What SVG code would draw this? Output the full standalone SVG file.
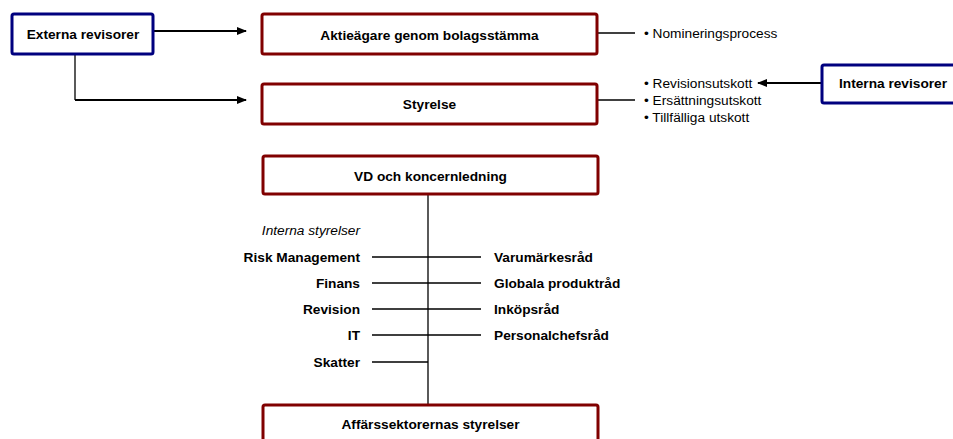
<svg xmlns="http://www.w3.org/2000/svg" width="953" height="439" viewBox="0 0 953 439">
<style>
.red{fill:#fff;stroke:#800000;stroke-width:3}
.blue{fill:#fff;stroke:#00007f;stroke-width:3}
.b{font-family:"Liberation Sans",Arial,sans-serif;font-weight:bold;font-size:13.7px;fill:#000}
.n{font-family:"Liberation Sans",Arial,sans-serif;font-size:13.7px;fill:#000}
.ln{stroke:#000;stroke-width:1.3;fill:none}
.arr{stroke:#000;stroke-width:2.2;fill:none}
</style>
<defs>
<marker id="ah" markerWidth="10" markerHeight="8" refX="9" refY="4" orient="auto" markerUnits="userSpaceOnUse">
<path d="M0,0 L10,4 L0,8 Z" fill="#000"/>
</marker>
</defs>
<g id="connectors">
<path class="arr" d="M153,31 H246" marker-end="url(#ah)"/>
<path class="ln" d="M75,54 V100"/>
<path class="arr" d="M75,100 H246" marker-end="url(#ah)"/>
<path class="ln" d="M597,33 H635"/>
<path class="ln" d="M597,100 H635"/>
<path class="arr" d="M822,83 H758" marker-end="url(#ah)"/>
<path class="ln" d="M428,194 V405"/>
<path class="ln" d="M372,257 H428 M372,283 H428 M372,309 H428 M372,335 H428 M372,362 H428"/>
<path class="ln" d="M428,257 H481 M428,283 H481 M428,309 H481 M428,335 H481"/>
</g>
<g id="externa">
<rect class="blue" x="12" y="14" width="141" height="40" rx="2"/>
<text class="b" x="83" y="39" text-anchor="middle">Externa revisorer</text>
</g>
<g id="aktieagare">
<rect class="red" x="262" y="14" width="335" height="40" rx="2"/>
<text class="b" x="429.5" y="40" text-anchor="middle">Aktieägare genom bolagsstämma</text>
</g>
<g id="styrelse">
<rect class="red" x="262" y="84" width="335" height="40" rx="2"/>
<text class="b" x="429.5" y="109" text-anchor="middle">Styrelse</text>
</g>
<g id="nominering">
<text class="n" x="644" y="38">• Nomineringsprocess</text>
</g>
<g id="utskott">
<text class="n" x="644" y="88">• Revisionsutskott</text>
<text class="n" x="644" y="105">• Ersättningsutskott</text>
<text class="n" x="644" y="122">• Tillfälliga utskott</text>
</g>
<g id="interna">
<rect class="blue" x="822" y="65" width="145" height="38" rx="2"/>
<text class="b" x="893" y="88" text-anchor="middle">Interna revisorer</text>
</g>
<g id="vd">
<rect class="red" x="263" y="156" width="335" height="38" rx="2"/>
<text class="b" x="430.5" y="181" text-anchor="middle">VD och koncernledning</text>
</g>
<g id="interna-styrelser">
<text class="n" x="360" y="235" text-anchor="end" font-style="italic">Interna styrelser</text>
<text class="b" x="360" y="262" text-anchor="end">Risk Management</text>
<text class="b" x="360" y="288" text-anchor="end">Finans</text>
<text class="b" x="360" y="314" text-anchor="end">Revision</text>
<text class="b" x="360" y="340" text-anchor="end">IT</text>
<text class="b" x="360" y="367" text-anchor="end">Skatter</text>
</g>
<g id="rad">
<text class="b" x="494" y="262">Varumärkesråd</text>
<text class="b" x="494" y="288">Globala produktråd</text>
<text class="b" x="494" y="314">Inköpsråd</text>
<text class="b" x="494" y="340">Personalchefsråd</text>
</g>
<g id="affarssektorer">
<rect class="red" x="263" y="405" width="335" height="50" rx="2"/>
<text class="b" x="430.5" y="429" text-anchor="middle">Affärssektorernas styrelser</text>
</g>
</svg>
